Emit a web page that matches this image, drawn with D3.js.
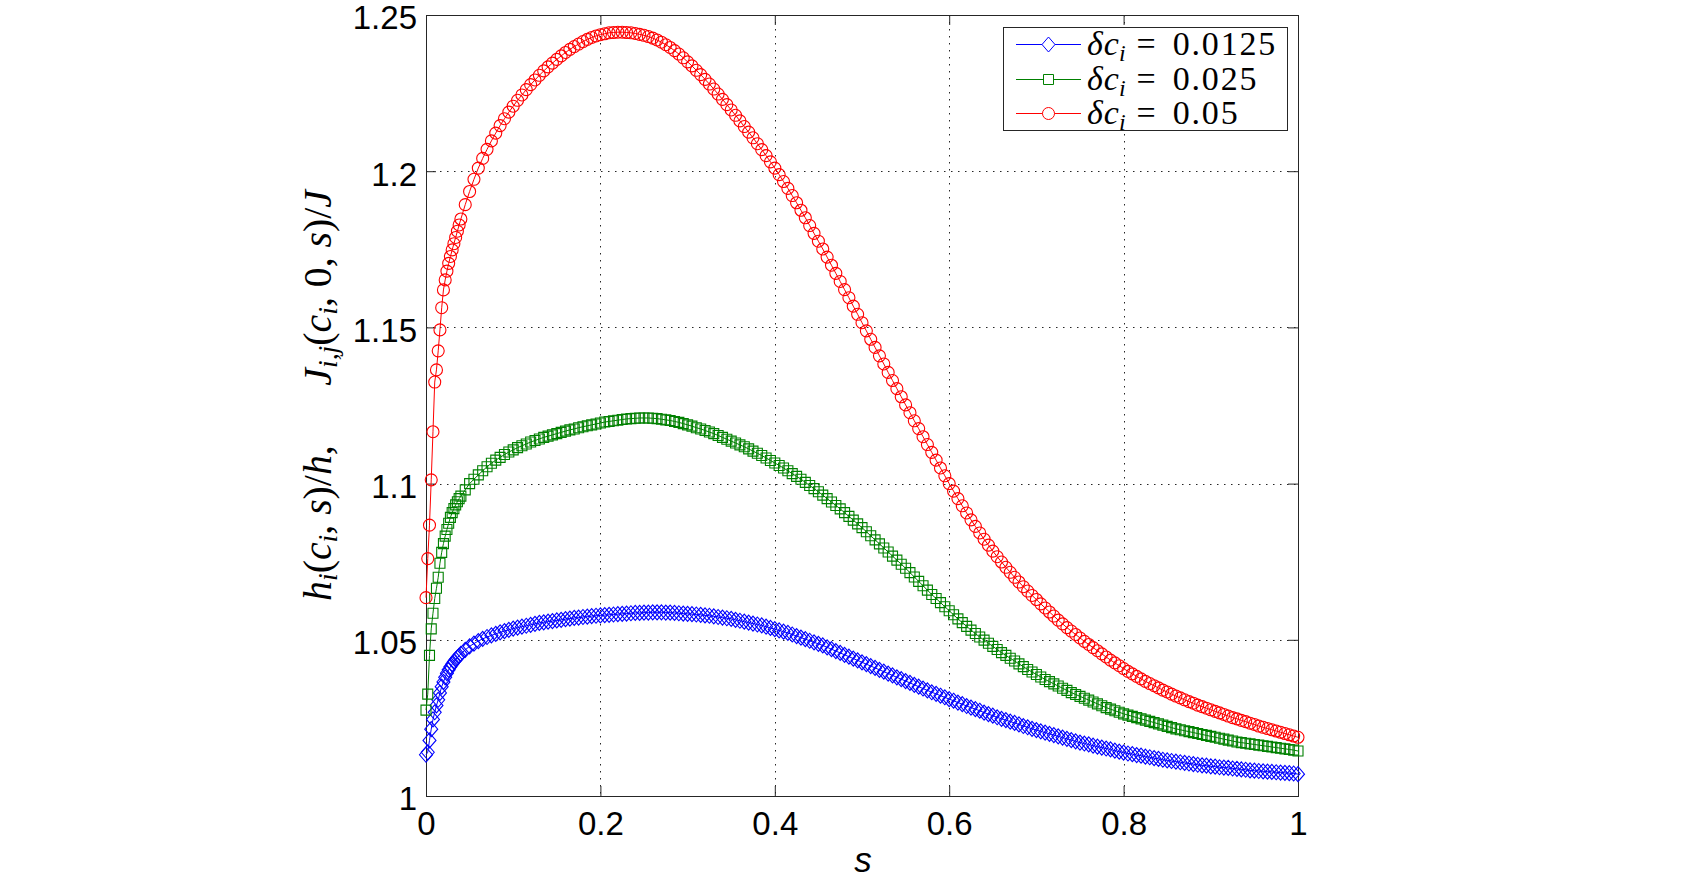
<!DOCTYPE html>
<html>
<head>
<meta charset="utf-8">
<script src="https://cdn.jsdelivr.net/npm/d3@7"></script>
<style>
  body { margin: 0; background: #fff; }
  svg { display: block; }
</style>
</head>
<body>
<svg id="chart" width="1695" height="885"></svg>
<script>
// ---- data -------------------------------------------------------------
// sample grid in s: fine near 0, then regular
const sHead = d3.range(20).map(i => +(i * 0.002).toFixed(3));
const sBody = d3.range(193).map(i => +(0.04 + i * 0.005).toFixed(3));
const sGrid = sHead.concat(sBody);

// delta c_i = 0.0125 (blue diamonds)
const blueVals = [
  1.0132,1.0140,1.0178,1.0214,1.0245,1.0268,1.0290,1.0308,1.0330,1.0350,
  1.0365,1.0380,1.0393,1.0404,1.0414,1.0422,1.0430,1.0437,1.0443,1.0449,
  1.0455,1.0468,1.0479,1.0488,1.0496,1.0503,1.0509,1.0514,1.0519,1.0524,
  1.0528,1.0532,1.0536,1.0539,1.0542,1.0545,1.0548,1.0551,1.0554,1.0556,
  1.0558,1.0560,1.0562,1.0564,1.0566,1.0568,1.0570,1.0571,1.0573,1.0574,
  1.0576,1.0577,1.0578,1.0579,1.0580,1.0581,1.0582,1.0583,1.0584,1.0585,
  1.0586,1.0586,1.0587,1.0587,1.0588,1.0588,1.0588,1.0587,1.0587,1.0586,
  1.0585,1.0584,1.0583,1.0582,1.0581,1.0580,1.0578,1.0577,1.0575,1.0573,
  1.0571,1.0569,1.0567,1.0564,1.0561,1.0558,1.0555,1.0552,1.0549,1.0546,
  1.0542,1.0538,1.0534,1.0530,1.0526,1.0522,1.0517,1.0512,1.0507,1.0502,
  1.0497,1.0492,1.0487,1.0482,1.0476,1.0470,1.0464,1.0458,1.0452,1.0446,
  1.0440,1.0434,1.0428,1.0422,1.0416,1.0410,1.0404,1.0398,1.0392,1.0386,
  1.0380,1.0374,1.0368,1.0362,1.0356,1.0350,1.0344,1.0338,1.0332,1.0327,
  1.0321,1.0316,1.0310,1.0305,1.0299,1.0294,1.0288,1.0283,1.0278,1.0273,
  1.0267,1.0262,1.0257,1.0252,1.0247,1.0243,1.0238,1.0234,1.0229,1.0224,
  1.0220,1.0215,1.0211,1.0207,1.0203,1.0199,1.0195,1.0191,1.0187,1.0183,
  1.0179,1.0175,1.0171,1.0168,1.0165,1.0161,1.0158,1.0155,1.0152,1.0149,
  1.0145,1.0142,1.0139,1.0136,1.0134,1.0131,1.0129,1.0126,1.0124,1.0121,
  1.0119,1.0116,1.0114,1.0112,1.0110,1.0108,1.0106,1.0104,1.0102,1.0100,
  1.0098,1.0097,1.0095,1.0094,1.0092,1.0091,1.0090,1.0088,1.0087,1.0085,
  1.0084,1.0082,1.0081,1.0080,1.0079,1.0078,1.0077,1.0076,1.0075,1.0074,
  1.0073,1.0072,1.0070
];

// delta c_i = 0.025 (green squares)
const greenVals = [
  1.0275,1.0326,1.0450,1.0535,1.0585,1.0632,1.0665,1.0700,1.0745,1.0780,
  1.0808,1.0832,1.0853,1.0873,1.0892,1.0907,1.0920,1.0932,1.0942,1.0952,
  1.0960,1.0980,1.1000,1.1014,1.1028,1.1041,1.1054,1.1065,1.1075,1.1084,
  1.1093,1.1101,1.1108,1.1115,1.1121,1.1127,1.1133,1.1138,1.1143,1.1148,
  1.1152,1.1156,1.1160,1.1164,1.1168,1.1172,1.1175,1.1179,1.1182,1.1185,
  1.1188,1.1191,1.1194,1.1197,1.1199,1.1201,1.1203,1.1205,1.1207,1.1208,
  1.1209,1.1210,1.1210,1.1210,1.1209,1.1208,1.1206,1.1204,1.1202,1.1199,
  1.1196,1.1192,1.1188,1.1184,1.1179,1.1175,1.1170,1.1165,1.1160,1.1154,
  1.1148,1.1142,1.1136,1.1130,1.1124,1.1118,1.1111,1.1104,1.1097,1.1090,
  1.1082,1.1074,1.1066,1.1058,1.1050,1.1041,1.1032,1.1023,1.1014,1.1004,
  1.0994,1.0984,1.0974,1.0963,1.0952,1.0941,1.0930,1.0919,1.0907,1.0895,
  1.0883,1.0871,1.0859,1.0846,1.0833,1.0820,1.0807,1.0794,1.0781,1.0768,
  1.0755,1.0742,1.0729,1.0715,1.0701,1.0687,1.0673,1.0659,1.0645,1.0632,
  1.0619,1.0606,1.0593,1.0580,1.0567,1.0555,1.0543,1.0531,1.0520,1.0509,
  1.0499,1.0489,1.0479,1.0469,1.0459,1.0450,1.0441,1.0432,1.0423,1.0414,
  1.0405,1.0397,1.0389,1.0381,1.0373,1.0366,1.0359,1.0352,1.0345,1.0338,
  1.0331,1.0325,1.0319,1.0313,1.0307,1.0301,1.0295,1.0289,1.0283,1.0278,
  1.0273,1.0268,1.0263,1.0259,1.0255,1.0251,1.0247,1.0243,1.0239,1.0235,
  1.0231,1.0227,1.0223,1.0219,1.0215,1.0212,1.0209,1.0206,1.0203,1.0200,
  1.0197,1.0194,1.0191,1.0188,1.0185,1.0182,1.0179,1.0176,1.0173,1.0171,
  1.0169,1.0167,1.0165,1.0163,1.0161,1.0159,1.0157,1.0155,1.0153,1.0151,
  1.0149,1.0147,1.0144
];

// delta c_i = 0.05 (red circles)
const redVals = [
  1.0635,1.0760,1.0867,1.1012,1.1166,1.1325,1.1364,1.1425,1.1492,1.1563,
  1.1620,1.1652,1.1680,1.1705,1.1727,1.1748,1.1768,1.1788,1.1808,1.1828,
  1.1847,1.1893,1.1935,1.1974,1.2010,1.2041,1.2070,1.2097,1.2122,1.2146,
  1.2168,1.2189,1.2208,1.2227,1.2244,1.2261,1.2277,1.2292,1.2307,1.2321,
  1.2334,1.2346,1.2358,1.2369,1.2380,1.2390,1.2399,1.2407,1.2415,1.2422,
  1.2428,1.2433,1.2437,1.2440,1.2443,1.2444,1.2445,1.2445,1.2444,1.2443,
  1.2441,1.2438,1.2435,1.2431,1.2426,1.2420,1.2413,1.2405,1.2396,1.2386,
  1.2375,1.2363,1.2350,1.2337,1.2323,1.2309,1.2294,1.2279,1.2263,1.2247,
  1.2230,1.2213,1.2196,1.2179,1.2161,1.2143,1.2125,1.2107,1.2088,1.2069,
  1.2050,1.2030,1.2010,1.1989,1.1967,1.1945,1.1922,1.1899,1.1875,1.1851,
  1.1826,1.1801,1.1776,1.1751,1.1725,1.1699,1.1673,1.1647,1.1621,1.1595,
  1.1568,1.1542,1.1515,1.1489,1.1462,1.1436,1.1409,1.1383,1.1356,1.1330,
  1.1304,1.1278,1.1252,1.1227,1.1201,1.1176,1.1150,1.1125,1.1100,1.1075,
  1.1050,1.1025,1.1000,1.0976,1.0952,1.0929,1.0906,1.0884,1.0863,1.0842,
  1.0822,1.0803,1.0784,1.0766,1.0749,1.0732,1.0716,1.0700,1.0685,1.0670,
  1.0656,1.0642,1.0629,1.0615,1.0602,1.0589,1.0576,1.0563,1.0551,1.0539,
  1.0528,1.0517,1.0506,1.0495,1.0485,1.0475,1.0465,1.0455,1.0445,1.0435,
  1.0426,1.0417,1.0408,1.0399,1.0391,1.0383,1.0375,1.0367,1.0360,1.0353,
  1.0346,1.0339,1.0333,1.0326,1.0320,1.0314,1.0308,1.0302,1.0297,1.0291,
  1.0286,1.0281,1.0276,1.0271,1.0266,1.0261,1.0256,1.0251,1.0247,1.0242,
  1.0238,1.0233,1.0229,1.0224,1.0220,1.0216,1.0212,1.0208,1.0204,1.0200,
  1.0196,1.0192,1.0188
];

const seriesLabels = ["0.0125", "0.025", "0.05"];
const seriesColors = ["#0000ff", "#008000", "#ff0000"];
const seriesShapes = ["diamond", "square", "circle"];
const seriesValues = [blueVals, greenVals, redVals];

const xTicks = [0, 0.2, 0.4, 0.6, 0.8, 1];
const xTickLabels = ["0", "0.2", "0.4", "0.6", "0.8", "1"];
const yTicks = [1, 1.05, 1.1, 1.15, 1.2, 1.25];
const yTickLabels = ["1", "1.05", "1.1", "1.15", "1.2", "1.25"];

// ---- layout -----------------------------------------------------------
const svg = d3.select("#chart");
const plot = {left: 426, top: 15, right: 1298, bottom: 796};
const tickLen = 10;
const axisColor = "#262626";

const x = d3.scaleLinear().domain([0, 1]).range([plot.left, plot.right]);
const y = d3.scaleLinear().domain([1, 1.25]).range([plot.bottom, plot.top]);

svg.append("rect").attr("width", 1695).attr("height", 885).attr("fill", "#fff");

// dotted grid
const grid = svg.append("g").attr("stroke", "#000").attr("stroke-width", 1)
  .attr("stroke-dasharray", "1.5,5.5").attr("stroke-opacity", 0.85);
grid.selectAll("line.gx").data(xTicks.slice(1, -1)).join("line")
  .attr("x1", d => Math.round(x(d)) + 0.5).attr("x2", d => Math.round(x(d)) + 0.5)
  .attr("y1", plot.top).attr("y2", plot.bottom);
grid.selectAll("line.gy").data(yTicks.slice(1, -1)).join("line")
  .attr("y1", d => Math.round(y(d)) + 0.5).attr("y2", d => Math.round(y(d)) + 0.5)
  .attr("x1", plot.left).attr("x2", plot.right);

// axes (ticks pointing inward on all four sides)
const tickFont = "'Liberation Sans', Arial, Helvetica, sans-serif";

const gx = svg.append("g").attr("transform", `translate(0,${plot.bottom})`)
  .call(d3.axisBottom(x).tickValues(xTicks).tickFormat((d, i) => xTickLabels[i])
    .tickSizeInner(-tickLen).tickSizeOuter(0).tickPadding(16));
const gxTop = svg.append("g").attr("transform", `translate(0,${plot.top})`)
  .call(d3.axisTop(x).tickValues(xTicks).tickFormat("").tickSizeInner(-tickLen).tickSizeOuter(0));
const gy = svg.append("g").attr("transform", `translate(${plot.left},0)`)
  .call(d3.axisLeft(y).tickValues(yTicks).tickFormat((d, i) => yTickLabels[i])
    .tickSizeInner(-tickLen).tickSizeOuter(0).tickPadding(9));
const gyRight = svg.append("g").attr("transform", `translate(${plot.right},0)`)
  .call(d3.axisRight(y).tickValues(yTicks).tickFormat("").tickSizeInner(-tickLen).tickSizeOuter(0));

[gx, gxTop, gy, gyRight].forEach(g => {
  g.select(".domain").remove();
  g.selectAll("line").attr("stroke", axisColor);
  g.selectAll("text").attr("fill", "#000").attr("font-family", tickFont).attr("font-size", 33);
});
gy.selectAll("text").attr("dy", "0.42em");

// box
svg.append("rect")
  .attr("x", plot.left + 0.5).attr("y", plot.top + 0.5)
  .attr("width", plot.right - plot.left).attr("height", plot.bottom - plot.top)
  .attr("fill", "none").attr("stroke", axisColor).attr("stroke-width", 1);

// ---- series -----------------------------------------------------------
function markerPath(shape, cx, cy) {
  if (shape === "diamond") {
    return `M${cx},${cy - 7.5}L${cx + 6.5},${cy}L${cx},${cy + 7.5}L${cx - 6.5},${cy}Z`;
  }
  if (shape === "square") {
    return `M${cx - 5},${cy - 5}h10v10h-10Z`;
  }
  const r = 6;
  return `M${cx - r},${cy}a${r},${r} 0 1,0 ${2 * r},0a${r},${r} 0 1,0 ${-2 * r},0Z`;
}

const line = d3.line().x(d => x(d.s)).y(d => y(d.v));

seriesValues.forEach((vals, k) => {
  const pts = sGrid.map((s, i) => ({s: s, v: vals[i]}));
  const g = svg.append("g").attr("class", "series");
  g.append("path").datum(pts)
    .attr("d", line)
    .attr("fill", "none")
    .attr("stroke", seriesColors[k])
    .attr("stroke-width", 1);
  g.selectAll("path.mk").data(pts).join("path")
    .attr("class", "mk")
    .attr("d", d => markerPath(seriesShapes[k], x(d.s), y(d.v)))
    .attr("fill", "none")
    .attr("stroke", seriesColors[k])
    .attr("stroke-width", 1.1);
});

// ---- legend -----------------------------------------------------------
const legend = svg.append("g");
legend.append("rect")
  .attr("x", 1003.5).attr("y", 27.5).attr("width", 284).attr("height", 103)
  .attr("fill", "#fff").attr("stroke", axisColor).attr("stroke-width", 1);

const mathFont = "'Liberation Serif', 'Times New Roman', serif";
const rowY = [44, 79, 113];

seriesLabels.forEach((lab, k) => {
  const ry = rowY[k];
  const row = legend.append("g");
  row.append("line")
    .attr("x1", 1016).attr("x2", 1081).attr("y1", ry + 0.5).attr("y2", ry + 0.5)
    .attr("stroke", seriesColors[k]).attr("stroke-width", 1);
  row.append("path")
    .attr("d", markerPath(seriesShapes[k], 1048.5, ry + 0.5))
    .attr("fill", "#fff").attr("stroke", seriesColors[k]).attr("stroke-width", 1);

  const t = row.append("text")
    .attr("x", 1087).attr("y", ry + 11)
    .attr("font-family", mathFont).attr("font-size", 34).attr("fill", "#000");
  t.append("tspan").attr("font-style", "italic").text("\u03b4");
  t.append("tspan").attr("font-style", "italic").attr("dx", 1).text("c");
  t.append("tspan").attr("font-style", "italic").attr("font-size", 24).attr("dy", 6).text("i");
  t.append("tspan").attr("dx", 11).attr("dy", -6).text("=");
  t.append("tspan").attr("dx", 17).attr("letter-spacing", 1.8).text(lab);
});

// ---- axis labels ------------------------------------------------------
svg.append("text")
  .attr("x", 863).attr("y", 872)
  .attr("text-anchor", "middle")
  .attr("font-family", tickFont).attr("font-style", "italic").attr("font-size", 35)
  .text("s");

const ylab = svg.append("text")
  .attr("transform", "translate(331,395.5) rotate(-90)")
  .attr("text-anchor", "middle")
  .attr("font-family", mathFont).attr("font-size", 37).attr("fill", "#000");

// pieces: [text, italic, subscript]
const ylabParts = [
  ["h", true, false], ["i", true, true], ["(", false, false], ["c", true, false], ["i", true, true],
  [", ", false, false], ["s", true, false], [")/", false, false], ["h", true, false], [",", false, false],
  ["\u2003\u2002", false, false],
  ["J", true, false], ["i,j", true, true], ["(", false, false], ["c", true, false], ["i", true, true],
  [", 0, ", false, false], ["s", true, false], [")/", false, false], ["J", true, false]
];
let inSub = false;
ylabParts.forEach(([txt, it, sub]) => {
  const ts = ylab.append("tspan").text(txt);
  if (it) ts.attr("font-style", "italic");
  if (sub) ts.attr("font-size", "70%");
  if (sub && !inSub) ts.attr("dy", "0.22em");
  if (!sub && inSub) ts.attr("dy", "-0.154em");
  inSub = sub;
});
// fit the label to the length it has in the figure
const ylabLen = ylab.node().getComputedTextLength();
if (ylabLen > 0) ylab.attr("font-size", 37 * 411 / ylabLen);
</script>
</body>
</html>
